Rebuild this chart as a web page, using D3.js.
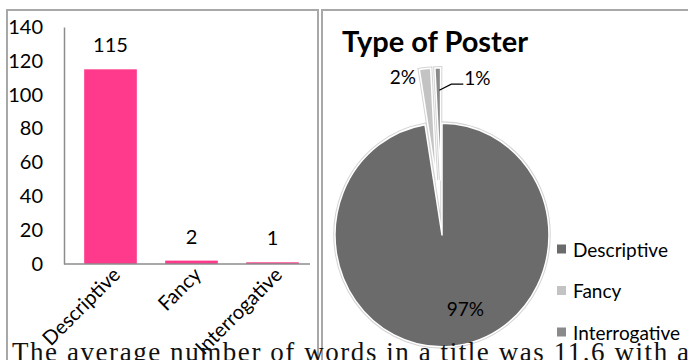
<!DOCTYPE html>
<html><head><meta charset="utf-8">
<script src="https://cdn.jsdelivr.net/npm/d3@7"></script>
<style>
html,body{margin:0;padding:0;background:#fff;overflow:hidden;}
svg{display:block;}
</style></head>
<body>
<script>
// ---- data ----
const categories = ["Descriptive", "Fancy", "Interrogative"];
const counts = [115, 2, 1];
const yTicks = [0, 20, 40, 60, 80, 100, 120, 140];
const pieTitle = "Type of Poster";
const pieLabels = ["97%", "2%", "1%"];
const pieColors = ["#6b6b6b", "#c3c3c3", "#8a8a8a"];
const barColor = "#ff3a8c";
const bodyText = "The average number of words in a title was 11.6 with a";

const W = 688, H = 360;
const svg = d3.select("body").append("svg").attr("width", W).attr("height", H);
const font = "Lato, 'Open Sans', sans-serif";

// ---- frames ----
svg.append("rect").attr("x", 7).attr("y", 10).attr("width", 311).attr("height", 400)
  .attr("fill", "#fff").attr("stroke", "#a8a8a8").attr("stroke-width", 2);
svg.append("rect").attr("x", 322).attr("y", 10).attr("width", 400).attr("height", 400)
  .attr("fill", "#fff").attr("stroke", "#a8a8a8").attr("stroke-width", 2);

// ---- bar chart ----
const x = d3.scaleBand().domain(categories).range([70, 313]).paddingInner(0.35).paddingOuter(0.175);
const y = d3.scaleLinear().domain([0, 140]).range([264, 27]);
const gBar = svg.append("g");

gBar.selectAll("rect.bar").data(counts).join("rect").attr("class", "bar")
  .attr("x", (d, i) => x(categories[i])).attr("width", x.bandwidth())
  .attr("y", d => y(d)).attr("height", d => y(0) - y(d)).attr("fill", barColor);

const yAxis = gBar.append("g").attr("transform", "translate(64,0)")
  .call(d3.axisLeft(y).tickValues(yTicks).tickSize(0).tickPadding(21));
yAxis.select(".domain").attr("stroke", "#8c8c8c").attr("stroke-width", 1.5);
yAxis.selectAll("text").attr("font-family", font).attr("font-size", 20).attr("fill", "#000");

const xAxis = gBar.append("g").attr("transform", "translate(0,264)")
  .call(d3.axisBottom(x).tickSize(0).tickPadding(0));
xAxis.select(".domain").attr("stroke", "#8c8c8c").attr("stroke-width", 1.5).attr("d", "M64,0H310");
xAxis.selectAll("text").attr("font-family", font).attr("font-size", 20).attr("fill", "#000")
  .attr("text-anchor", "end").attr("dy", null).attr("y", 0)
  .attr("transform", "translate(11,12) rotate(-45)");

gBar.selectAll("text.val").data(counts).join("text").attr("class", "val")
  .attr("x", (d, i) => x(categories[i]) + x.bandwidth() / 2)
  .attr("y", d => y(d) - 17)
  .attr("text-anchor", "middle").attr("font-family", font).attr("font-size", 20).attr("fill", "#000")
  .text(d => d);

// ---- pie chart ----
const cx = 442, cy = 235, r = 107, sy = 1.045, explode = 53;
const pie = d3.pie().sort(null).value(d => d);
const arcs = pie(counts);
const arc = d3.arc().innerRadius(0).outerRadius(r);
const gPie = svg.append("g").attr("transform", `translate(${cx},${cy})`);
const gSlices = gPie.append("g").attr("transform", `scale(1,${sy})`);

function offset(d, i) {
  if (i === 0) return [0, 0];
  const a = (d.startAngle + d.endAngle) / 2;
  return [explode * Math.sin(a), -explode * Math.cos(a)];
}

svg.append("text").attr("x", 342).attr("y", 52).attr("font-family", font)
  .attr("font-weight", 700).attr("font-size", 29).attr("fill", "#000").text(pieTitle);

gSlices.selectAll("path.outline").data(arcs).join("path").attr("class", "outline")
  .attr("transform", (d, i) => `translate(${offset(d, i)})`)
  .attr("d", arc).attr("fill", "none").attr("stroke", "#d4d4d4").attr("stroke-width", 3.5);
gSlices.selectAll("path.slice").data(arcs).join("path").attr("class", "slice")
  .attr("transform", (d, i) => `translate(${offset(d, i)})`)
  .attr("d", arc).attr("fill", (d, i) => pieColors[i])
  .attr("stroke", "#fff").attr("stroke-width", 1.5).attr("stroke-linejoin", "round");

// labels
const inner = d3.arc().innerRadius(r * 0.75).outerRadius(r * 0.75);
gPie.append("text").datum(arcs[0])
  .attr("x", d => inner.centroid(d)[0] + 17).attr("y", d => inner.centroid(d)[1] * sy - 10)
  .attr("text-anchor", "middle").attr("dominant-baseline", "central")
  .attr("font-family", font).attr("font-size", 19).attr("fill", "#000").text(pieLabels[0]);
{
  const d = arcs[1], o = offset(d, 1), a = (d.startAngle + d.endAngle) / 2;
  const px = o[0] + r * Math.sin(a), py = (o[1] - r * Math.cos(a)) * sy;
  gPie.append("text").attr("x", px - 9).attr("y", py + 8)
    .attr("text-anchor", "end").attr("dominant-baseline", "central")
    .attr("font-family", font).attr("font-size", 19).attr("fill", "#000").text(pieLabels[1]);
}
{
  const d = arcs[2], o = offset(d, 2), a = (d.startAngle + d.endAngle) / 2;
  const sx0 = o[0] + r * 0.8 * Math.sin(a) + 1, sy0 = (o[1] - r * 0.8 * Math.cos(a)) * sy;
  const lx = sx0 + 24;
  gPie.append("path").attr("d", `M${sx0},${sy0}L${sx0 + 12},${sy0 - 6}H${lx}`)
    .attr("fill", "none").attr("stroke", "#000").attr("stroke-width", 1.2);
  gPie.append("text").attr("x", lx + 1).attr("y", sy0 - 13)
    .attr("dominant-baseline", "central")
    .attr("font-family", font).attr("font-size", 19).attr("fill", "#000").text(pieLabels[2]);
}

// legend
const leg = svg.append("g").attr("transform", "translate(557,249)");
const li = leg.selectAll("g").data(categories).join("g")
  .attr("transform", (d, i) => `translate(0,${i * 41.5})`);
li.append("rect").attr("x", 0).attr("y", -4.5).attr("width", 9).attr("height", 9)
  .attr("fill", (d, i) => pieColors[i]);
li.append("text").attr("x", 16).attr("y", 0).attr("dominant-baseline", "central")
  .attr("font-family", font).attr("font-size", 19).attr("fill", "#000").text(d => d);

// ---- body text below ----
svg.append("text").attr("x", 12).attr("y", 361)
  .attr("font-family", "'Liberation Serif', 'Times New Roman', serif").attr("font-size", 27)
  .attr("fill", "#111").attr("textLength", 677).attr("lengthAdjust", "spacing")
  .text(bodyText);
</script>
</body></html>
